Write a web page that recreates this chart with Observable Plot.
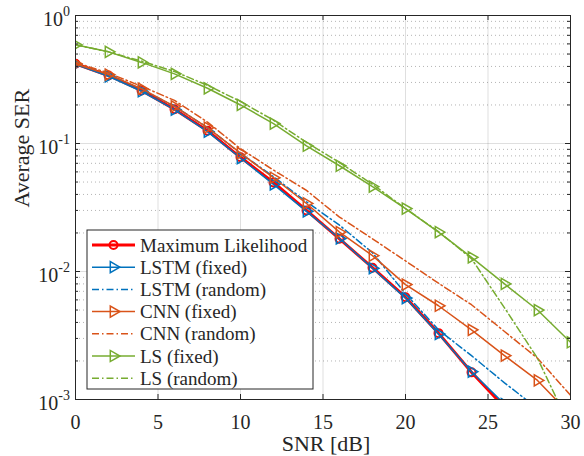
<!DOCTYPE html>
<html><head><meta charset="utf-8">
<script src="https://cdn.jsdelivr.net/npm/d3@7"></script>
<script src="https://cdn.jsdelivr.net/npm/@observablehq/plot@0.6"></script>
<style>body{margin:0;background:#fff;} svg{display:block}</style>
</head><body><div id="chart"></div>
<script>
// ---- data ----
const snr = [0, 2, 4, 6, 8, 10, 12, 14, 16, 18, 20, 22, 24, 26, 28, 30];
const seriesNames = ["Maximum Likelihood", "LSTM (fixed)", "LSTM (random)", "CNN (fixed)", "CNN (random)", "LS (fixed)", "LS (random)"];
const mlSER        = [0.42, 0.34, 0.26, 0.185, 0.126, 0.078, 0.0496, 0.030, 0.0180, 0.0107, 0.0063, 0.0033, 0.00163, 0.00087];
const lstmFixedSER = [0.415, 0.335, 0.256, 0.184, 0.124, 0.077, 0.048, 0.0295, 0.0181, 0.0106, 0.0062, 0.00325, 0.00165, 0.00092];
const lstmRandomSER= [0.42, 0.345, 0.265, 0.195, 0.133, 0.084, 0.055, 0.035, 0.023, 0.014, 0.0067, 0.0035, 0.0022, 0.00135, 0.00085];
const cnnFixedSER  = [0.42, 0.345, 0.268, 0.195, 0.133, 0.084, 0.054, 0.034, 0.0203, 0.0133, 0.0079, 0.0054, 0.0035, 0.0022, 0.00141, 0.00076];
const cnnRandomSER = [0.43, 0.355, 0.28, 0.217, 0.147, 0.091, 0.062, 0.043, 0.0266, 0.018, 0.0121, 0.0081, 0.0055, 0.0034, 0.0021, 0.00108];
const lsFixedSER   = [0.59, 0.52, 0.43, 0.35, 0.27, 0.20, 0.143, 0.096, 0.067, 0.046, 0.031, 0.0203, 0.0129, 0.0080, 0.0050, 0.0028];
const lsRandomSER  = [0.59, 0.52, 0.44, 0.365, 0.285, 0.213, 0.152, 0.102, 0.071, 0.048, 0.031, 0.0205, 0.0126, 0.0052, 0.0021, 0.0006];
const xTicks = [0, 5, 10, 15, 20, 25, 30];
const yTicks = [1e-3, 1e-2, 1e-1, 1];
const yTickLabels = ["10^-3", "10^-2", "10^-1", "10^0"];
const xLabel = "SNR [dB]";
const yLabel = "Average SER";

// ---- styles ----
const seriesValues = [mlSER, lstmFixedSER, lstmRandomSER, cnnFixedSER, cnnRandomSER, lsFixedSER, lsRandomSER];
const seriesColors = ["#FF0000", "#0072BD", "#0072BD", "#D95319", "#D95319", "#77AC30", "#77AC30"];
const DASHDOT = "7,3,1.5,3";
const seriesDash = [null, null, DASHDOT, null, DASHDOT, null, DASHDOT];
const seriesMarker = ["circle", "triangle2", null, "triangle2", null, "triangle2", null];
const seriesWidth = [3, 1.5, 1.5, 1.5, 1.5, 1.5, 1.5];

const W = 584, H = 456, mL = 75, mR = 14, mT = 15, mB = 57;
const innerW = W - mL - mR, innerH = H - mT - mB;
const FONT = "'Liberation Serif', 'Times New Roman', serif";
const INK = "#262626";

const yMinor = d3.range(-3, 0).flatMap(e => d3.range(2, 10).map(m => m * Math.pow(10, e)));

const seriesMarks = seriesNames.flatMap((name, i) => {
  const data = seriesValues[i].map((v, j) => ({snr: snr[j], ser: v})).filter(d => d.ser != null);
  const marks = [Plot.line(data, {x: "snr", y: "ser", stroke: seriesColors[i], strokeWidth: seriesWidth[i],
    strokeDasharray: seriesDash[i] || undefined, clip: true})];
  if (seriesMarker[i]) {
    marks.push(Plot.dot(data, {x: "snr", y: "ser", symbol: seriesMarker[i],
      r: seriesMarker[i] === "circle" ? 4 : 5.3, rotate: seriesMarker[i] === "circle" ? 0 : 90,
      stroke: seriesColors[i], fill: "none", strokeWidth: seriesMarker[i] === "circle" ? 2 : 1.5, clip: true}));
  }
  return marks;
});

const plot = Plot.plot({
  width: W, height: H, marginLeft: mL, marginRight: mR, marginTop: mT, marginBottom: mB,
  style: {fontFamily: FONT, fontSize: "20px", color: INK, background: "#fff"},
  x: {domain: [0, 30]},
  y: {type: "log", domain: [1e-3, 1]},
  marks: [
    Plot.ruleY(yMinor, {stroke: INK, strokeOpacity: 0.35, strokeDasharray: "1,3"}),
    Plot.ruleY(yTicks, {stroke: INK, strokeOpacity: 0.15}),
    Plot.ruleX(xTicks, {stroke: INK, strokeOpacity: 0.15}),
    ...seriesMarks,
    Plot.frame({stroke: INK}),
    // inward ticks
    Plot.tickY(yTicks, {stroke: INK, insetRight: innerW - 5}),
    Plot.tickY(yTicks, {stroke: INK, insetLeft: innerW - 5}),
    Plot.tickY(yMinor, {stroke: INK, insetRight: innerW - 3}),
    Plot.tickY(yMinor, {stroke: INK, insetLeft: innerW - 3}),
    Plot.tickX(xTicks, {stroke: INK, insetTop: innerH - 5}),
    Plot.tickX(xTicks, {stroke: INK, insetBottom: innerH - 5}),
    Plot.axisX(xTicks, {tickSize: 0, tickPadding: 15, fontSize: 20, label: null}),
    Plot.axisY(yTicks, {tickSize: 0, tickPadding: 5.5, fontSize: 20, label: null, dy: 3.6,
      tickFormat: d => yTickLabels[yTicks.indexOf(d)]}),
    Plot.text([xLabel], {frameAnchor: "bottom", lineAnchor: "middle", dy: 44, dx: 3, fontSize: 22, fill: INK}),
    Plot.text([yLabel], {frameAnchor: "left", lineAnchor: "middle", dx: -54, rotate: -90, fontSize: 22, fill: INK})
  ]
});

document.getElementById("chart").appendChild(plot);
const svg = d3.select(plot);

// superscript exponents on y tick labels
svg.selectAll('g[aria-label="y-axis tick label"] text').each(function() {
  const s = this.textContent;
  if (!s.includes("^")) return;
  const [base, exp] = s.split("^");
  const t = d3.select(this);
  t.text("");
  t.append("tspan").text(base);
  t.append("tspan").attr("dy", -10).attr("font-size", 14).text(exp);
});

// legend
const lg = svg.append("g").attr("font-family", FONT).attr("font-size", 19).attr("fill", INK)
  .attr("text-anchor", "start");
lg.append("rect").attr("x", 87).attr("y", 230).attr("width", 226).attr("height", 159)
  .attr("fill", "#fff").attr("stroke", INK).attr("stroke-width", 1);
seriesNames.forEach((name, i) => {
  const cy = 245 + i * 22.2;
  lg.append("line").attr("x1", 92).attr("x2", 135).attr("y1", cy).attr("y2", cy)
    .attr("stroke", seriesColors[i]).attr("stroke-width", seriesWidth[i])
    .attr("stroke-dasharray", seriesDash[i]);
  if (seriesMarker[i]) {
    const isC = seriesMarker[i] === "circle";
    const r = isC ? 4 : 5.3;
    const sym = isC ? d3.symbolCircle : d3.symbolTriangle2;
    lg.append("path").attr("d", d3.symbol(sym, r * r * Math.PI)())
      .attr("transform", `translate(113.5,${cy}) rotate(${isC ? 0 : 90})`)
      .attr("fill", "none").attr("stroke", seriesColors[i]).attr("stroke-width", isC ? 2 : 1.5);
  }
  lg.append("text").attr("x", 140).attr("y", cy).attr("dy", "0.35em").attr("text-anchor", "start").text(name);
});
</script>
</body></html>
